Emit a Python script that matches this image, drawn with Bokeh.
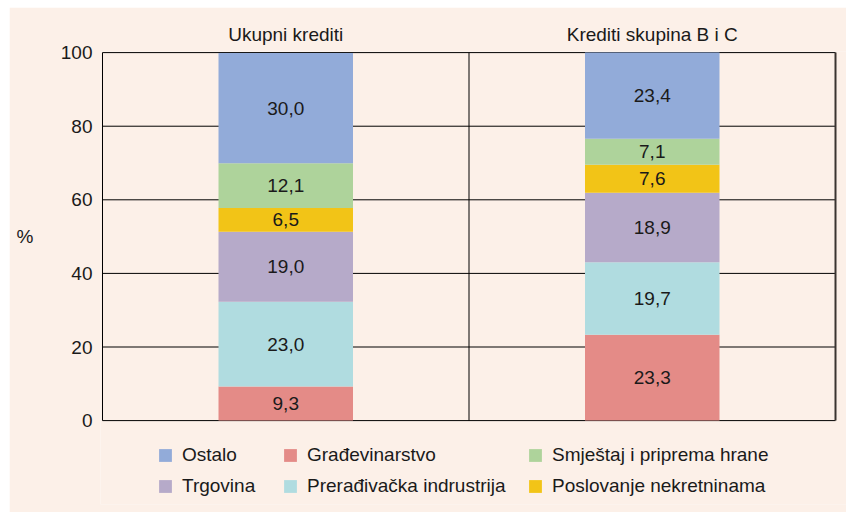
from bokeh.plotting import figure
from bokeh.models import (Range1d, FixedTicker, LinearAxis, Legend, LegendItem,
                          ColumnDataSource, Spacer)
from bokeh.layouts import column, row
from bokeh.embed import file_html
from bokeh.resources import INLINE
from bokeh.core.properties import value

# ---- data ----
groups = ["Ukupni krediti", "Krediti skupina B i C"]
sectors = ["Građevinarstvo", "Prerađivačka indrustrija", "Trgovina",
           "Poslovanje nekretninama", "Smještaj i priprema hrane", "Ostalo"]
gradjevinarstvo = [9.3, 23.3]
preradjivacka = [23.0, 19.7]
trgovina = [19.0, 18.9]
nekretnine = [6.5, 7.6]
smjestaj = [12.1, 7.1]
ostalo = [30.0, 23.4]
y_ticks = [0, 20, 40, 60, 80, 100]
y_unit = "%"

colors = ["#E48B87", "#B0DCE0", "#B6AAC9", "#F2C417", "#AED39B", "#92ABD9"]
series = [gradjevinarstvo, preradjivacka, trgovina, nekretnine, smjestaj, ostalo]
keys = ["s%d" % i for i in range(len(series))]

FONT = "Liberation Sans"
FS = "19px"
BG = "#FCF0E8"
TXT = "#1a1a1a"

xs = [0.5, 1.5]
data = {"x": xs}
for k, s in zip(keys, series):
    data[k] = s
src = ColumnDataSource(data)

# geometry of the frame
W, H = 837, 505
frame_left, frame_right_pad, frame_top, frame_bottom_pad = 91, 0, 44, 8
frame_w = W - frame_left - frame_right_pad
frame_h = H - frame_top - frame_bottom_pad
px_per_x = 366.5
px_per_y = 3.68
x_min = -2 / px_per_x
x_max = x_min + frame_w / px_per_x
y_max = 100.3
y_min = y_max - frame_h / px_per_y

p = figure(width=W, height=H, output_backend="svg", toolbar_location=None,
           x_range=Range1d(x_min, x_max), y_range=Range1d(y_min, y_max),
           min_border_left=frame_left, min_border_right=frame_right_pad,
           min_border_top=frame_top, min_border_bottom=frame_bottom_pad)
p.background_fill_color = BG
p.border_fill_color = BG
p.outline_line_color = None
p.grid.grid_line_color = None

# horizontal grid lines (under the bars), axis line and panel separators
p.segment(x0=[0] * len(y_ticks), y0=y_ticks, x1=[2] * len(y_ticks), y1=y_ticks,
          line_color="black", line_width=1)

renderers = p.vbar_stack(keys, x="x", width=0.367, color=colors, source=src,
                         line_color=None)

p.segment(x0=[0], y0=[0], x1=[0], y1=[100], line_color="black", line_width=1)
p.segment(x0=[1], y0=[0], x1=[1], y1=[100], line_color="black", line_width=1)
p.segment(x0=[2], y0=[0], x1=[2], y1=[100], line_color="#3a3430", line_width=2)

# value labels
for i in range(len(xs)):
    base = 0.0
    for s in series:
        v = s[i]
        p.text(x=[xs[i]], y=[base + v / 2], text=[("%.1f" % v).replace(".", ",")],
               text_align="center", text_baseline="middle",
               text_font=value(FONT), text_font_size=FS, text_color=TXT)
        base += v

# axes
p.xaxis.visible = False
yax = p.yaxis[0]
yax.ticker = FixedTicker(ticks=y_ticks)
yax.axis_line_color = None
yax.major_tick_line_color = None
yax.major_tick_out = 0
yax.major_tick_in = 0
yax.minor_tick_line_color = None
yax.major_label_text_font = FONT
yax.major_label_text_font_size = FS
yax.major_label_text_color = TXT
yax.major_label_standoff = 8

unit_axis = LinearAxis(ticker=FixedTicker(ticks=[50]), major_label_overrides={50: y_unit})
unit_axis.axis_line_color = None
unit_axis.major_tick_line_color = None
unit_axis.major_tick_out = 0
unit_axis.major_tick_in = 0
unit_axis.minor_tick_line_color = None
unit_axis.major_label_text_font = FONT
unit_axis.major_label_text_font_size = FS
unit_axis.major_label_text_color = TXT
unit_axis.major_label_standoff = 24
p.add_layout(unit_axis, "left")

top_axis = LinearAxis(ticker=FixedTicker(ticks=xs),
                      major_label_overrides={xs[0]: groups[0], xs[1]: groups[1]})
top_axis.axis_line_color = None
top_axis.major_tick_line_color = None
top_axis.major_tick_out = 0
top_axis.major_tick_in = 0
top_axis.minor_tick_line_color = None
top_axis.major_label_text_font = FONT
top_axis.major_label_text_font_size = FS
top_axis.major_label_text_color = TXT
top_axis.major_label_standoff = 7
p.add_layout(top_axis, "above")

# legend: three columns of two entries
legend_cols = [(5, 2), (0, 1), (4, 3)]
legend_x = [57, 182, 427]
for (a, b), lx in zip(legend_cols, legend_x):
    leg = Legend(items=[LegendItem(label=sectors[a], renderers=[renderers[a]]),
                        LegendItem(label=sectors[b], renderers=[renderers[b]])],
                 location=(lx, 7), orientation="vertical",
                 glyph_width=16, glyph_height=16, spacing=9,
                 label_standoff=9, padding=0, margin=0,
                 border_line_color=None, background_fill_alpha=0,
                 label_text_font=FONT, label_text_font_size=FS,
                 label_text_color=TXT, label_height=16)
    p.add_layout(leg, "center")

layout = column(Spacer(width=W, height=7), row(Spacer(width=9, height=H), p))
open("out.html", "w").write(file_html(layout, INLINE))
